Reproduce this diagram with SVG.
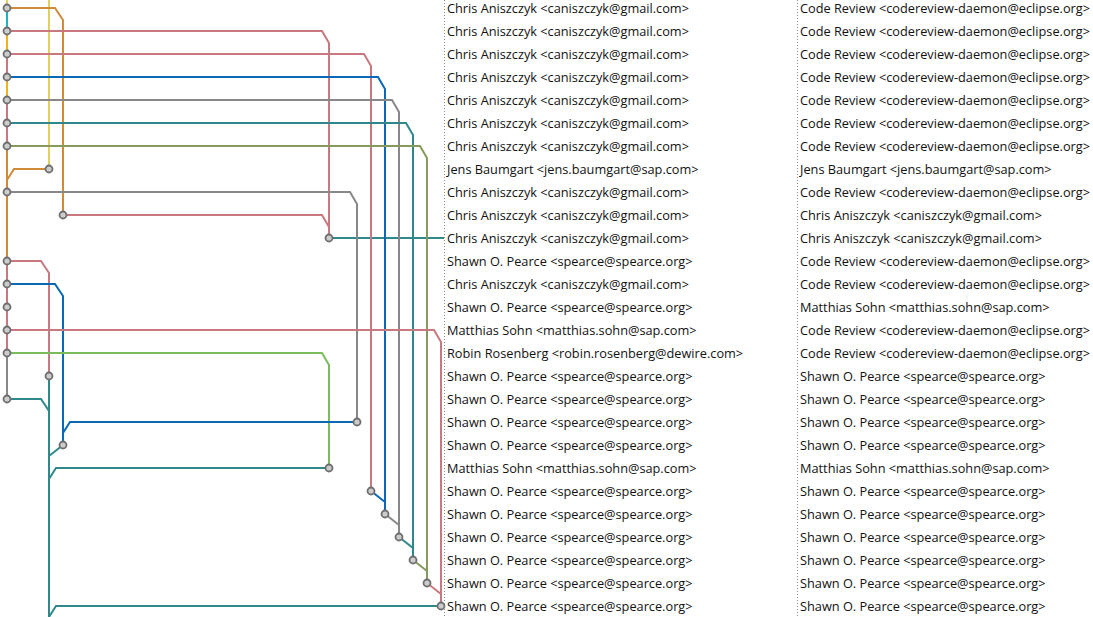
<svg xmlns="http://www.w3.org/2000/svg" width="1093" height="617" viewBox="0 0 1093 617">
<style>
.e{fill:none;stroke-width:2;stroke-linejoin:miter}
.y{stroke:#e2cf5e}.c{stroke:#1fb3c6}.a{stroke:#f0b21a}.p{stroke:#c8787f}.b{stroke:#0a68b6}
.g{stroke:#888888}.t{stroke:#2f888c}.o{stroke:#859a5c}.r{stroke:#d08a3a}.n{stroke:#7bbb5c}
.node circle{fill:#cccccc;stroke:#6e6e6e;stroke-width:1.8}
text{font-family:"Open Sans","Noto Sans","Liberation Sans",sans-serif;font-size:12.75px;fill:#111}
.sep{stroke:#8a8a8a;stroke-width:1;stroke-dasharray:1,2}
</style>
<rect width="1093" height="617" fill="#fff"/>
<g id="connectors">
<path class="e y" d="M7,0V8"/>
<path class="e c" d="M7,8V31"/>
<path class="e a" d="M7,31V54"/>
<path class="e p" d="M7,54V77"/>
<path class="e a" d="M7,77V100"/>
<path class="e p" d="M7,100V146"/>
<path class="e r" d="M7,146V261"/>
<path class="e p" d="M7,261V353"/>
<path class="e g" d="M7,353V399"/>
<path class="e y" d="M49,0V169"/>
<path class="e r" d="M7,8H55L63,20V215"/>
<path class="e p" d="M63,215H322L329,227V238"/>
<path class="e p" d="M7,31H322L329,43V238"/>
<path class="e t" d="M329,238H444"/>
<path class="e p" d="M7,54H364L371,66V491"/>
<path class="e b" d="M7,77H378L385,89V514"/>
<path class="e b" d="M371,491L385,502"/>
<path class="e g" d="M7,100H392L399,112V537"/>
<path class="e g" d="M385,514L399,525"/>
<path class="e t" d="M7,123H406L413,135V560"/>
<path class="e t" d="M399,537L413,548"/>
<path class="e o" d="M7,146H420L427,158V583"/>
<path class="e o" d="M413,560L427,571"/>
<path class="e r" d="M49,169H14L7,180"/>
<path class="e g" d="M7,192H350L357,204V422"/>
<path class="e p" d="M7,261H41L49,273V376"/>
<path class="e b" d="M7,284H55L63,296V445"/>
<path class="e p" d="M7,330H434L441,342V606"/>
<path class="e p" d="M427,583L441,594"/>
<path class="e n" d="M7,353H322L329,365V468"/>
<path class="e t" d="M49,376V617"/>
<path class="e t" d="M7,399H41L49,411"/>
<path class="e b" d="M357,422H70L63,433"/>
<path class="e t" d="M63,445L49,456"/>
<path class="e t" d="M329,468H56L49,479"/>
<path class="e t" d="M441,606H56L49,617"/>
</g>
<g id="nodes" class="node">
<circle id="n0" cx="7" cy="8" r="3.5"/>
<circle id="n1" cx="7" cy="31" r="3.5"/>
<circle id="n2" cx="7" cy="54" r="3.5"/>
<circle id="n3" cx="7" cy="77" r="3.5"/>
<circle id="n4" cx="7" cy="100" r="3.5"/>
<circle id="n5" cx="7" cy="123" r="3.5"/>
<circle id="n6" cx="7" cy="146" r="3.5"/>
<circle id="n7" cx="49" cy="169" r="3.5"/>
<circle id="n8" cx="7" cy="192" r="3.5"/>
<circle id="n9" cx="63" cy="215" r="3.5"/>
<circle id="n10" cx="329" cy="238" r="3.5"/>
<circle id="n11" cx="7" cy="261" r="3.5"/>
<circle id="n12" cx="7" cy="284" r="3.5"/>
<circle id="n13" cx="7" cy="307" r="3.5"/>
<circle id="n14" cx="7" cy="330" r="3.5"/>
<circle id="n15" cx="7" cy="353" r="3.5"/>
<circle id="n16" cx="49" cy="376" r="3.5"/>
<circle id="n17" cx="7" cy="399" r="3.5"/>
<circle id="n18" cx="357" cy="422" r="3.5"/>
<circle id="n19" cx="63" cy="445" r="3.5"/>
<circle id="n20" cx="329" cy="468" r="3.5"/>
<circle id="n21" cx="371" cy="491" r="3.5"/>
<circle id="n22" cx="385" cy="514" r="3.5"/>
<circle id="n23" cx="399" cy="537" r="3.5"/>
<circle id="n24" cx="413" cy="560" r="3.5"/>
<circle id="n25" cx="427" cy="583" r="3.5"/>
<circle id="n26" cx="441" cy="606" r="3.5"/>
</g>
<g id="separators">
<line class="sep" x1="444.5" y1="0" x2="444.5" y2="617"/>
<line class="sep" x1="797.5" y1="0" x2="797.5" y2="617"/>
</g>
<g id="authors">
<text x="447" y="12.5">Chris Aniszczyk &lt;caniszczyk@gmail.com&gt;</text>
<text x="447" y="35.5">Chris Aniszczyk &lt;caniszczyk@gmail.com&gt;</text>
<text x="447" y="58.5">Chris Aniszczyk &lt;caniszczyk@gmail.com&gt;</text>
<text x="447" y="81.5">Chris Aniszczyk &lt;caniszczyk@gmail.com&gt;</text>
<text x="447" y="104.5">Chris Aniszczyk &lt;caniszczyk@gmail.com&gt;</text>
<text x="447" y="127.5">Chris Aniszczyk &lt;caniszczyk@gmail.com&gt;</text>
<text x="447" y="150.5">Chris Aniszczyk &lt;caniszczyk@gmail.com&gt;</text>
<text x="447" y="173.5">Jens Baumgart &lt;jens.baumgart@sap.com&gt;</text>
<text x="447" y="196.5">Chris Aniszczyk &lt;caniszczyk@gmail.com&gt;</text>
<text x="447" y="219.5">Chris Aniszczyk &lt;caniszczyk@gmail.com&gt;</text>
<text x="447" y="242.5">Chris Aniszczyk &lt;caniszczyk@gmail.com&gt;</text>
<text x="447" y="265.5">Shawn O. Pearce &lt;spearce@spearce.org&gt;</text>
<text x="447" y="288.5">Chris Aniszczyk &lt;caniszczyk@gmail.com&gt;</text>
<text x="447" y="311.5">Shawn O. Pearce &lt;spearce@spearce.org&gt;</text>
<text x="447" y="334.5">Matthias Sohn &lt;matthias.sohn@sap.com&gt;</text>
<text x="447" y="357.5">Robin Rosenberg &lt;robin.rosenberg@dewire.com&gt;</text>
<text x="447" y="380.5">Shawn O. Pearce &lt;spearce@spearce.org&gt;</text>
<text x="447" y="403.5">Shawn O. Pearce &lt;spearce@spearce.org&gt;</text>
<text x="447" y="426.5">Shawn O. Pearce &lt;spearce@spearce.org&gt;</text>
<text x="447" y="449.5">Shawn O. Pearce &lt;spearce@spearce.org&gt;</text>
<text x="447" y="472.5">Matthias Sohn &lt;matthias.sohn@sap.com&gt;</text>
<text x="447" y="495.5">Shawn O. Pearce &lt;spearce@spearce.org&gt;</text>
<text x="447" y="518.5">Shawn O. Pearce &lt;spearce@spearce.org&gt;</text>
<text x="447" y="541.5">Shawn O. Pearce &lt;spearce@spearce.org&gt;</text>
<text x="447" y="564.5">Shawn O. Pearce &lt;spearce@spearce.org&gt;</text>
<text x="447" y="587.5">Shawn O. Pearce &lt;spearce@spearce.org&gt;</text>
<text x="447" y="610.5">Shawn O. Pearce &lt;spearce@spearce.org&gt;</text>
</g>
<g id="committers">
<text x="800" y="12.5">Code Review &lt;codereview-daemon@eclipse.org&gt;</text>
<text x="800" y="35.5">Code Review &lt;codereview-daemon@eclipse.org&gt;</text>
<text x="800" y="58.5">Code Review &lt;codereview-daemon@eclipse.org&gt;</text>
<text x="800" y="81.5">Code Review &lt;codereview-daemon@eclipse.org&gt;</text>
<text x="800" y="104.5">Code Review &lt;codereview-daemon@eclipse.org&gt;</text>
<text x="800" y="127.5">Code Review &lt;codereview-daemon@eclipse.org&gt;</text>
<text x="800" y="150.5">Code Review &lt;codereview-daemon@eclipse.org&gt;</text>
<text x="800" y="173.5">Jens Baumgart &lt;jens.baumgart@sap.com&gt;</text>
<text x="800" y="196.5">Code Review &lt;codereview-daemon@eclipse.org&gt;</text>
<text x="800" y="219.5">Chris Aniszczyk &lt;caniszczyk@gmail.com&gt;</text>
<text x="800" y="242.5">Chris Aniszczyk &lt;caniszczyk@gmail.com&gt;</text>
<text x="800" y="265.5">Code Review &lt;codereview-daemon@eclipse.org&gt;</text>
<text x="800" y="288.5">Code Review &lt;codereview-daemon@eclipse.org&gt;</text>
<text x="800" y="311.5">Matthias Sohn &lt;matthias.sohn@sap.com&gt;</text>
<text x="800" y="334.5">Code Review &lt;codereview-daemon@eclipse.org&gt;</text>
<text x="800" y="357.5">Code Review &lt;codereview-daemon@eclipse.org&gt;</text>
<text x="800" y="380.5">Shawn O. Pearce &lt;spearce@spearce.org&gt;</text>
<text x="800" y="403.5">Shawn O. Pearce &lt;spearce@spearce.org&gt;</text>
<text x="800" y="426.5">Shawn O. Pearce &lt;spearce@spearce.org&gt;</text>
<text x="800" y="449.5">Shawn O. Pearce &lt;spearce@spearce.org&gt;</text>
<text x="800" y="472.5">Matthias Sohn &lt;matthias.sohn@sap.com&gt;</text>
<text x="800" y="495.5">Shawn O. Pearce &lt;spearce@spearce.org&gt;</text>
<text x="800" y="518.5">Shawn O. Pearce &lt;spearce@spearce.org&gt;</text>
<text x="800" y="541.5">Shawn O. Pearce &lt;spearce@spearce.org&gt;</text>
<text x="800" y="564.5">Shawn O. Pearce &lt;spearce@spearce.org&gt;</text>
<text x="800" y="587.5">Shawn O. Pearce &lt;spearce@spearce.org&gt;</text>
<text x="800" y="610.5">Shawn O. Pearce &lt;spearce@spearce.org&gt;</text>
</g>
</svg>
